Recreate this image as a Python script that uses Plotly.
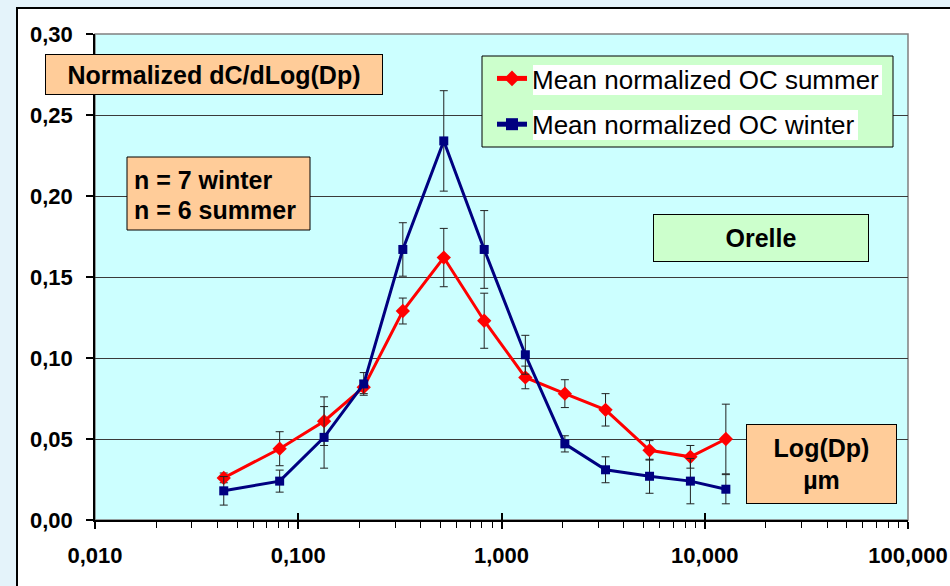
import plotly.graph_objects as go

# ---- data ----
dp = [0.043, 0.081, 0.134, 0.210, 0.327, 0.520, 0.822, 1.31, 2.05, 3.25, 5.35, 8.5, 12.7]
summer = [0.026, 0.044, 0.061, 0.082, 0.129, 0.162, 0.123, 0.088, 0.078, 0.068, 0.043, 0.039, 0.050]
summer_err = [0.003, 0.0105, 0.015, 0.004, 0.008, 0.018, 0.017, 0.007, 0.0086, 0.010, 0.006, 0.007, 0.0215]
winter = [0.018, 0.024, 0.051, 0.084, 0.167, 0.234, 0.167, 0.102, 0.047, 0.031, 0.027, 0.024, 0.019]
winter_err = [0.0088, 0.0068, 0.019, 0.007, 0.0165, 0.031, 0.024, 0.012, 0.005, 0.008, 0.0105, 0.014, 0.009]
series_names = ["Mean normalized OC summer", "Mean normalized OC winter"]

FONT = "Liberation Sans, Arial, sans-serif"
W, H = 950, 586
L, R, T, B = 95, 42, 34, 66
PW, PH = W - L - R, H - T - B


def px(x):
    return (x - L) / PW


def py(y):
    return (H - B - y) / PH


fig = go.Figure()
fig.add_trace(go.Scatter(
    x=dp, y=summer, name=series_names[0], mode="lines+markers", legendgroup="s",
    line=dict(color="#FF0000", width=3),
    marker=dict(symbol="diamond", size=11, color="#FF0000"),
    error_y=dict(type="data", array=summer_err, color="#222222", thickness=1, width=4),
))
fig.add_trace(go.Scatter(
    x=dp, y=winter, name=series_names[1], mode="lines+markers", legendgroup="w",
    line=dict(color="#000080", width=3),
    marker=dict(symbol="square", size=9, color="#000080"),
    error_y=dict(type="data", array=winter_err, color="#222222", thickness=1, width=4),
))

shapes = [
    # chart frame (white with black border)
    dict(type="rect", xref="paper", yref="paper", x0=px(17), x1=px(1000), y0=py(640), y1=py(8),
         fillcolor="white", line=dict(color="black", width=2), layer="below"),
    # plot area
    dict(type="rect", xref="paper", yref="paper", x0=0, x1=1, y0=0, y1=1,
         fillcolor="#CCFFFF", line=dict(color="#808080", width=1.5), layer="below"),
    # legend box
    dict(type="rect", xref="paper", yref="paper", x0=px(482), x1=px(893), y0=py(147), y1=py(56),
         fillcolor="#CCFFCC", line=dict(color="black", width=1), layer="above"),
    dict(type="rect", xref="paper", yref="paper", x0=px(533), x1=px(882), y0=py(95), y1=py(65),
         fillcolor="white", line=dict(width=0), layer="above"),
    dict(type="rect", xref="paper", yref="paper", x0=px(533), x1=px(858), y0=py(140), y1=py(110),
         fillcolor="white", line=dict(width=0), layer="above"),
    # "n =" box
    dict(type="rect", xref="paper", yref="paper", x0=px(127), x1=px(310), y0=py(230), y1=py(157),
         fillcolor="#FFCC99", line=dict(color="black", width=1), layer="above"),
]

AF = dict(family=FONT, size=25, color="black")
annotations = [
    dict(text="<b>Normalized dC/dLog(Dp)</b>", xref="paper", yref="paper", x=px(45), y=py(54),
         xanchor="left", yanchor="top", showarrow=False, width=336, height=39,
         bgcolor="#FFCC99", bordercolor="black", borderwidth=1, borderpad=0, font=AF),
    dict(text="<b>n = 7 winter</b>", xref="paper", yref="paper", x=px(132), y=py(180),
         xanchor="left", yanchor="middle", showarrow=False, font=AF),
    dict(text="<b>n = 6 summer</b>", xref="paper", yref="paper", x=px(132), y=py(210),
         xanchor="left", yanchor="middle", showarrow=False, font=AF),
    dict(text="<b>Orelle</b>", xref="paper", yref="paper", x=px(653), y=py(214),
         xanchor="left", yanchor="top", showarrow=False, width=214, height=46,
         bgcolor="#CCFFCC", bordercolor="black", borderwidth=1, borderpad=0, font=AF),
    dict(text="<b>Log(Dp)<br>µm</b>", xref="paper", yref="paper", x=px(746), y=py(424),
         xanchor="left", yanchor="top", showarrow=False, width=149, height=78,
         bgcolor="#FFCC99", bordercolor="black", borderwidth=1, borderpad=0, font=AF),
]

fig.update_layout(
    width=W, height=H,
    margin=dict(l=L, r=R, t=T, b=B, autoexpand=False),
    paper_bgcolor="#E4F3FA",
    plot_bgcolor="#CCFFFF",
    separators=", ",
    font=dict(family=FONT, color="black"),
    showlegend=True,
    legend=dict(x=px(492), y=py(55), xanchor="left", yanchor="top",
                bgcolor="rgba(0,0,0,0)", borderwidth=0, traceorder="grouped",
                tracegroupgap=9,
                font=dict(family=FONT, size=26, color="black"),
                itemsizing="constant"),
    shapes=shapes,
    annotations=annotations,
    xaxis=dict(type="log", range=[-2, 2], dtick=1, tickformat=".3f", automargin=False,
               showgrid=False, zeroline=False, showline=True, linecolor="black", linewidth=1.5,
               ticks="outside", ticklen=7, tickcolor="black", tickwidth=1.5,
               minor=dict(ticks="outside", ticklen=6, dtick="D1", tickcolor="black", tickwidth=1, showgrid=False),
               tickfont=dict(family=FONT, size=22, color="black"),
               tickprefix="<b>", ticksuffix="</b>",
               ticklabelstandoff=8),
    xaxis2=dict(type="log", range=[-2, 2], dtick=1, overlaying="x", side="bottom", automargin=False,
                showticklabels=False, showgrid=False, zeroline=False, showline=False,
                ticks="inside", ticklen=7, tickcolor="black", tickwidth=1.5),
    yaxis=dict(range=[0, 0.30], dtick=0.05, tickformat=".2f", automargin=False,
               showgrid=True, gridcolor="#3A3A3A", gridwidth=1, zeroline=False,
               showline=True, linecolor="black", linewidth=1.5,
               ticks="outside", ticklen=7, tickcolor="black", tickwidth=1.5,
               tickfont=dict(family=FONT, size=22, color="black"),
               tickprefix="<b>", ticksuffix="</b>",
               ticklabelstandoff=9),
)
# invisible helper trace so xaxis2 (inner half of major ticks) is drawn
fig.add_trace(go.Scatter(x=[0.01], y=[0], xaxis="x2", yaxis="y", mode="markers",
                         marker=dict(opacity=0), showlegend=False, hoverinfo="skip"))

fig.write_html("out.html", config={"displayModeBar": False},
               post_script="document.body.style.margin='0';document.body.style.overflow='hidden';")
